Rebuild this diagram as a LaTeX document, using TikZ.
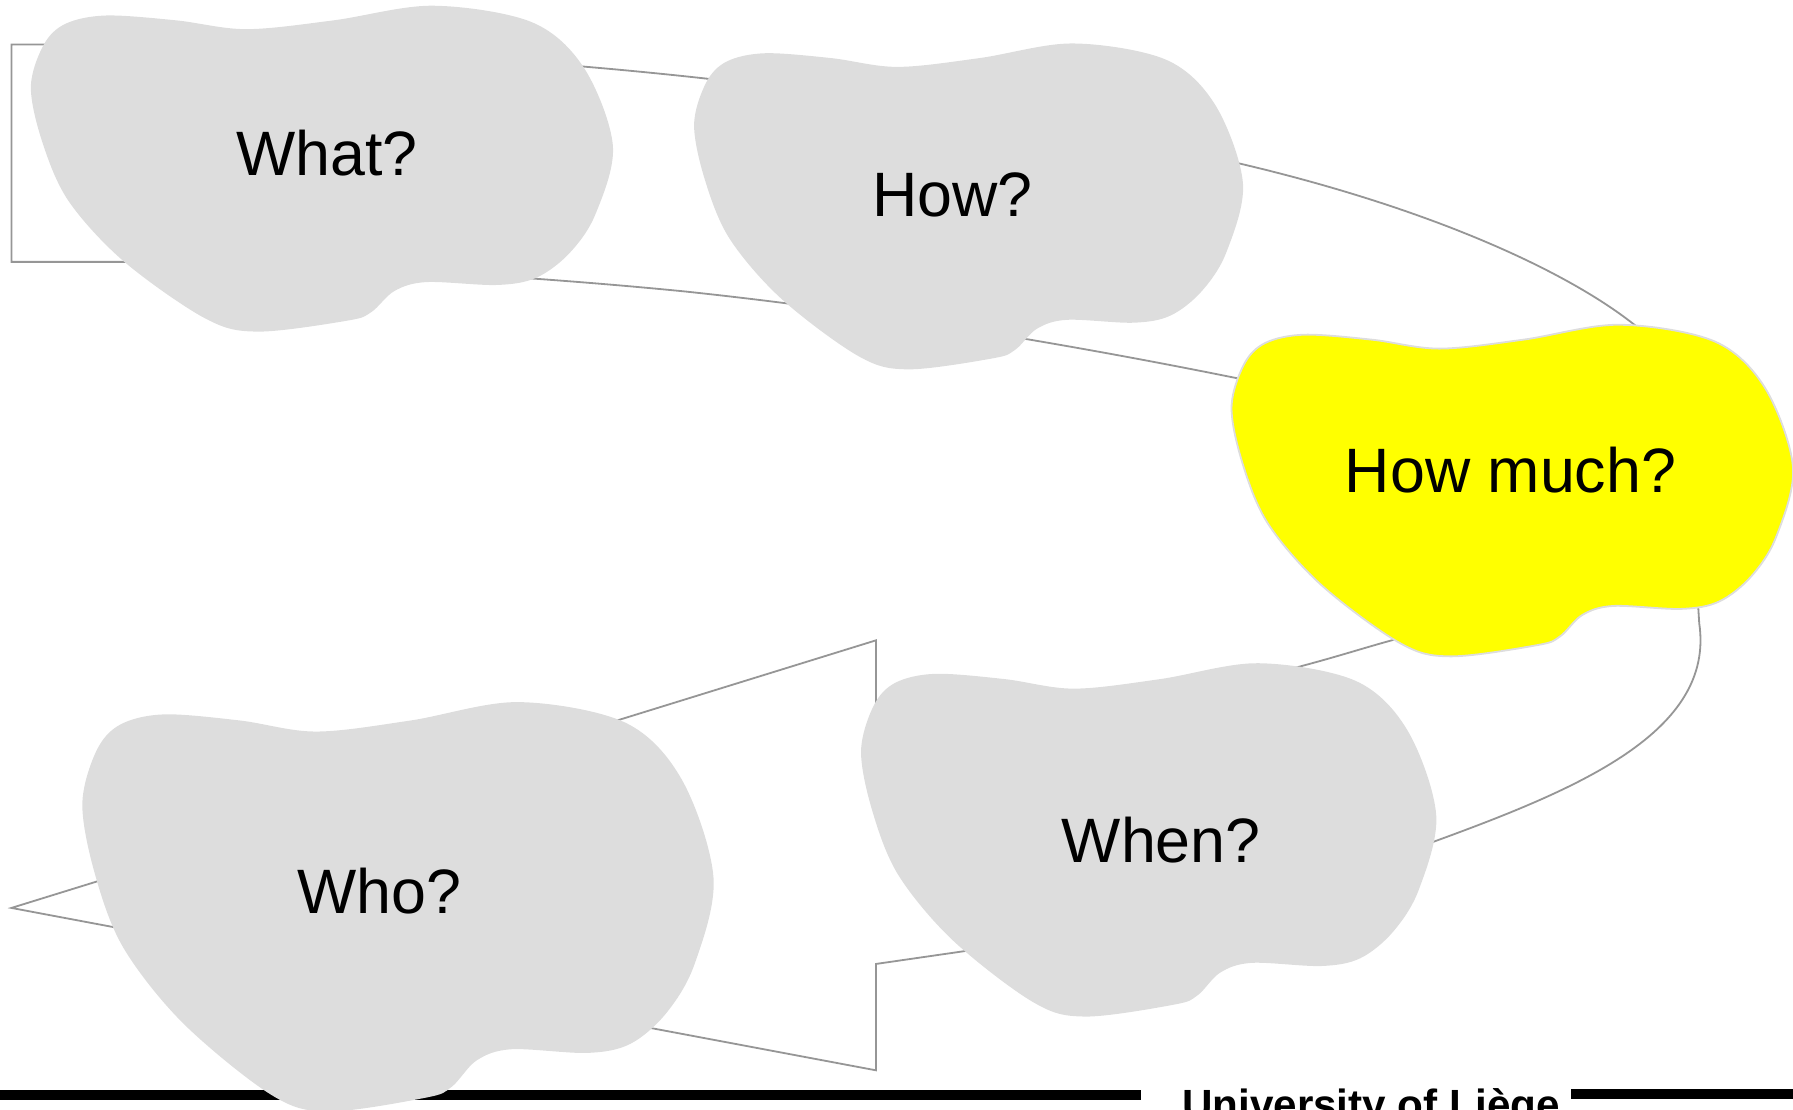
\documentclass[tikz,border=0pt]{standalone}
\usepackage{fontspec}
\usepackage{tikz}
\usetikzlibrary{calc}
\newfontfamily\arialfont{Liberation Sans}
\definecolor{blobgray}{RGB}{221,221,221}
\definecolor{flowgray}{RGB}{150,150,150}
\definecolor{hotyellow}{RGB}{255,255,0}
%% blob outline, drawn in a unit box and stretched over (x,y) w x h
\newcommand{\blob}[5]{%
  \path[#1,shift={(#2,#3)},xscale=#4,yscale=#5]
    plot[smooth cycle,tension=0.55] coordinates {
      (0,0.25) (0.022,0.12) (0.06,0.055) (0.13,0.03) (0.25,0.045)
      (0.37,0.072) (0.52,0.045) (0.69,0) (0.86,0.05) (0.95,0.19)
      (1,0.43) (0.97,0.64) (0.925,0.76) (0.868,0.835) (0.8,0.857)
      (0.68,0.848) (0.625,0.875) (0.585,0.94) (0.545,0.966) (0.39,1)
      (0.3,0.96) (0.16,0.785) (0.065,0.6) (0.02,0.42)};}

\begin{document}
\begin{tikzpicture}[x=0.01cm,y=-0.01cm,
    quest/.style={font=\arialfont\fontsize{15.6}{18}\selectfont,inner sep=0pt},
    coolblob/.style={fill=blobgray},
    hotblob/.style={fill=hotyellow,draw=blobgray,line width=0.45pt},
    flow/.style={draw=flowgray,line width=0.45pt}]
    \useasboundingbox (0,0) rectangle (1568,970);
    \clip (0,0) rectangle (1568,970);
    %% footer
    \draw[line width=0.09cm] (0,957.5) -- (998,957.5);
    \draw[line width=0.09cm] (1374,957) -- (1568,957);
    \node (uni) at (1033,979) [anchor=base west,inner sep=0pt,
      font=\arialfont\bfseries\fontsize{10.5}{12}\selectfont]{University of Liège};
    %% the big turning arrow behind the blobs
    \draw[flow] (10,39) -- (40,39)
      .. controls (250,39) and (450,50) .. (620,69)
      .. controls (800,89) and (950,112) .. (1084,143)
      .. controls (1250,182) and (1368,236) .. (1428,283)
      .. controls (1473,316) and (1480,450) .. (1486,545)
      .. controls (1500,640) and (1380,690) .. (1254,736)
      .. controls (1100,795) and (950,815) .. (842,832)
      -- (766,843) -- (766,936) -- (10,794) -- (766,560) -- (766,616)
      .. controls (900,610) and (1060,605) .. (1140,582)
      .. controls (1170,574) and (1195,566) .. (1217,560)
      .. controls (1300,536) and (1330,380) .. (1083,331)
      .. controls (930,300) and (760,272) .. (600,255)
      .. controls (450,240) and (250,229) .. (105,229)
      -- (10,229) -- cycle;
    %% blobs
    \blob{coolblob}{27}{5}{509}{285}
    \blob{coolblob}{607}{38}{480}{285}
    \blob{hotblob}{1077}{284}{491}{290}
    \blob{coolblob}{72}{614}{552}{358}
    \blob{coolblob}{753}{580}{503}{309}
    \node (what) at (286,134) [quest]{What?};
    \node (how) at (833,170.5) [quest]{How?};
    \node (howmuch) at (1321,411) [quest]{How much?};
    \node (who) at (331.5,779.5) [quest]{Who?};
    \node (when) at (1015.5,735) [quest]{When?};
\end{tikzpicture}
\end{document}
